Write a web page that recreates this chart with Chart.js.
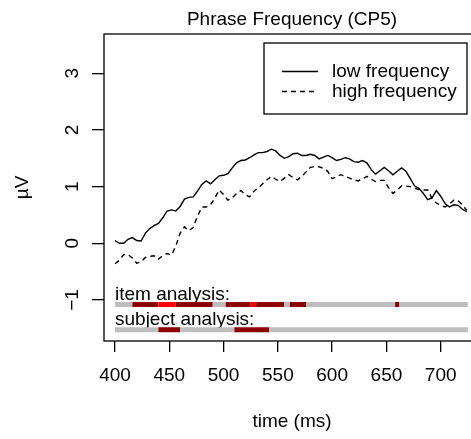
<!DOCTYPE html>
<html>
<head>
<meta charset="utf-8">
<script src="https://cdn.jsdelivr.net/npm/chart.js@4/dist/chart.umd.min.js"></script>
<style>
  html, body { margin: 0; padding: 0; overflow: hidden; background: #fff; }
  canvas { display: block; }
</style>
</head>
<body>
<canvas id="erp" width="480" height="439"></canvas>
<script>
// time axis (ms), one sample every 4 ms
const times = [400, 404, 408, 412, 416, 420, 424, 428, 432, 436, 440, 444, 448, 452, 456, 460, 464, 468, 472, 476,
  480, 484, 488, 492, 496, 500, 504, 508, 512, 516, 520, 524, 528, 532, 536, 540, 544, 548, 552, 556,
  560, 564, 568, 572, 576, 580, 584, 588, 592, 596, 600, 604, 608, 612, 616, 620, 624, 628, 632, 636,
  640, 644, 648, 652, 656, 660, 664, 668, 672, 676, 680, 684, 688, 692, 696, 700, 704, 708, 712, 716,
  720, 724];

const lowFreq = [0.05, 0.00, 0.00, 0.07, 0.10, 0.05, 0.04, 0.18, 0.26, 0.31, 0.35, 0.45, 0.57, 0.59, 0.57, 0.65, 0.78, 0.81, 0.82, 0.92,
  1.04, 1.10, 1.05, 1.12, 1.19, 1.20, 1.23, 1.33, 1.42, 1.46, 1.47, 1.51, 1.56, 1.60, 1.60, 1.62, 1.66, 1.63, 1.55, 1.50,
  1.53, 1.58, 1.59, 1.55, 1.55, 1.57, 1.55, 1.49, 1.52, 1.55, 1.51, 1.46, 1.48, 1.51, 1.49, 1.44, 1.43, 1.46, 1.42, 1.30,
  1.22, 1.28, 1.34, 1.28, 1.21, 1.27, 1.33, 1.27, 1.14, 1.01, 0.97, 0.88, 0.77, 0.80, 0.93, 0.83, 0.70, 0.64, 0.68, 0.67,
  0.60, 0.56];

const highFreq = [-0.36, -0.30, -0.20, -0.20, -0.26, -0.35, -0.33, -0.25, -0.23, -0.22, -0.28, -0.22, -0.18, -0.21, -0.05, 0.18, 0.29, 0.22, 0.28, 0.48,
  0.64, 0.64, 0.68, 0.80, 0.94, 0.86, 0.76, 0.80, 0.88, 0.93, 0.86, 0.82, 0.92, 0.98, 1.05, 1.12, 1.18, 1.13, 1.09, 1.15,
  1.21, 1.16, 1.12, 1.18, 1.26, 1.34, 1.35, 1.35, 1.32, 1.27, 1.14, 1.17, 1.21, 1.18, 1.15, 1.12, 1.10, 1.14, 1.18, 1.13,
  1.09, 1.11, 1.11, 0.98, 0.88, 0.94, 1.01, 1.01, 1.00, 0.97, 0.95, 0.94, 0.94, 0.79, 0.71, 0.67, 0.64, 0.69, 0.76, 0.75,
  0.68, 0.58];

// significance strips: boundaries in ms, level per interval (0 = n.s., 1 = darkred, 2 = red)
const itemBounds = [400, 416, 440, 456, 490, 502, 525, 530, 556, 561, 576, 658, 662, 725];
const itemLevels = [0, 1, 2, 1, 0, 1, 2, 1, 0, 1, 0, 1, 0];
const subjectBounds = [400, 440, 460, 510, 542, 725];
const subjectLevels = [0, 1, 0, 1, 0];

const xTicks = [400, 450, 500, 550, 600, 650, 700];
const yTicks = [-1, 0, 1, 2, 3];
const yTickLabels = ["\u22121", "0", "1", "2", "3"];

const FONT = "'Liberation Sans', Arial, Helvetica, sans-serif";
const levelColors = ["#BEBEBE", "#8B0000", "#FF0000"];

function strip(bounds, levels, y) {
  return {
    data: bounds.map((t) => ({ x: t, y: y })),
    borderWidth: 5,
    borderCapStyle: "butt",
    pointRadius: 0,
    segment: {
      borderColor: (ctx) => levelColors[levels[ctx.p0DataIndex]],
    },
  };
}

const boxPlugin = {
  id: "rbox",
  beforeDatasetsDraw(chart) {
    const { ctx, scales } = chart;
    ctx.save();
    ctx.fillStyle = "#000";
    ctx.font = "19px " + FONT;
    ctx.textAlign = "left";
    ctx.textBaseline = "alphabetic";
    const x0 = scales.x.getPixelForValue(400);
    ctx.fillText("item analysis:", x0, scales.y.getPixelForValue(-1.0));
    ctx.fillText("subject analysis:", x0, scales.y.getPixelForValue(-1.44));
    ctx.restore();
  },
  afterDraw(chart) {
    const { ctx, chartArea, scales } = chart;
    ctx.save();
    // main title, centred over the plot region like R does
    ctx.fillStyle = "#000";
    ctx.font = "19px " + FONT;
    ctx.textAlign = "center";
    ctx.textBaseline = "middle";
    ctx.fillText("Phrase Frequency (CP5)", (chartArea.left + chartArea.right) / 2, chartArea.top - 14.5);

    // plot frame
    ctx.strokeStyle = "#000";
    ctx.lineWidth = 1.3;
    ctx.strokeRect(chartArea.left, chartArea.top, chartArea.right - chartArea.left, chartArea.bottom - chartArea.top);

    // rotated y tick labels
    ctx.textAlign = "center";
    ctx.textBaseline = "alphabetic";
    yTicks.forEach((v, i) => {
      ctx.save();
      ctx.translate(chartArea.left - 26, scales.y.getPixelForValue(v));
      ctx.rotate(-Math.PI / 2);
      ctx.fillText(yTickLabels[i], 0, 0);
      ctx.restore();
    });

    // legend
    const lx = chartArea.left + 160;
    const ly = chartArea.top + 9;
    ctx.fillStyle = "#fff";
    ctx.fillRect(lx, ly, 203, 71);
    ctx.strokeRect(lx, ly, 203, 71);
    ctx.textBaseline = "middle";
    ctx.textAlign = "left";
    [0, 1].forEach((i) => {
      const ds = chart.data.datasets[i];
      const yy = ly + 28.5 + i * 20;
      ctx.beginPath();
      ctx.setLineDash(ds.borderDash || []);
      ctx.lineWidth = ds.borderWidth;
      ctx.strokeStyle = "#000";
      ctx.moveTo(lx + 18, yy);
      ctx.lineTo(lx + 54, yy);
      ctx.stroke();
      ctx.setLineDash([]);
      ctx.fillStyle = "#000";
      ctx.fillText(ds.label, lx + 68, yy);
    });
    ctx.restore();
  },
};

new Chart(document.getElementById("erp"), {
  type: "line",
  data: {
    datasets: [
      {
        label: "low frequency",
        data: times.map((t, i) => ({ x: t, y: lowFreq[i] })),
        borderColor: "#000",
        borderWidth: 1.4,
        pointRadius: 0,
        tension: 0,
      },
      {
        label: "high frequency",
        data: times.map((t, i) => ({ x: t, y: highFreq[i] })),
        borderColor: "#000",
        borderWidth: 1.4,
        borderDash: [5, 4],
        pointRadius: 0,
        tension: 0,
      },
      strip(itemBounds, itemLevels, -1.08),
      strip(subjectBounds, subjectLevels, -1.525),
    ],
  },
  options: {
    responsive: false,
    animation: false,
    devicePixelRatio: 1,
    layout: { padding: { top: 34, left: 0, right: 0, bottom: 0 } },
    plugins: {
      legend: { display: false },
      tooltip: { enabled: false },
      title: { display: false },
    },
    scales: {
      x: {
        type: "linear",
        min: 389.87,
        max: 736.2,
        afterFit: (scale) => { scale.height = 98; },
        afterBuildTicks: (scale) => { scale.ticks = xTicks.map((v) => ({ value: v })); },
        border: { display: false },
        grid: { drawOnChartArea: false, drawTicks: true, tickLength: 11, color: "#000", lineWidth: 1.3 },
        ticks: {
          color: "#000",
          font: { family: FONT, size: 19 },
          padding: 12,
          maxRotation: 0,
          autoSkip: false,
        },
        title: {
          display: true,
          text: "time (ms)",
          color: "#000",
          font: { family: FONT, size: 19 },
          padding: { top: 0, bottom: 5.6 },
        },
      },
      y: {
        type: "linear",
        min: -1.724,
        max: 3.693,
        afterFit: (scale) => { scale.width = 104; },
        afterBuildTicks: (scale) => { scale.ticks = yTicks.map((v) => ({ value: v })); },
        border: { display: false },
        grid: { drawOnChartArea: false, drawTicks: true, tickLength: 12, color: "#000", lineWidth: 1.3 },
        ticks: { display: false },
        title: {
          display: true,
          text: "\u00b5V",
          color: "#000",
          font: { family: FONT, size: 19 },
          padding: { top: 11, bottom: 0 },
        },
      },
    },
  },
  plugins: [boxPlugin],
});
</script>
</body>
</html>
